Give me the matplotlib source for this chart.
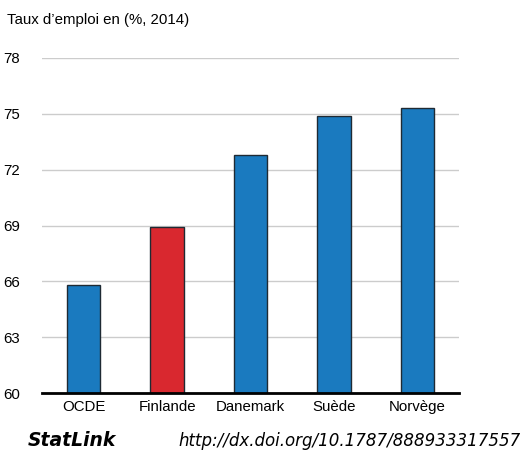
import matplotlib.pyplot as plt

# Taux d'emploi, 2014
pays = ["OCDE", "Finlande", "Danemark", "Suède", "Norvège"]
taux = [65.8, 68.9, 72.8, 74.9, 75.3]
couleurs = ["#1a7abf", "#d9282f", "#1a7abf", "#1a7abf", "#1a7abf"]
yticks = [60, 63, 66, 69, 72, 75, 78]

plt.rcParams['font.family'] = ['Liberation Sans', 'DejaVu Sans']

fig = plt.figure(figsize=(5.21, 4.51), dpi=100)
ax = fig.add_axes([0.0806, 0.1286, 0.8004, 0.7428])

ax.bar(range(len(pays)), taux, width=0.4, color=couleurs,
       edgecolor="#1f2a33", linewidth=1.0, zorder=3)

ax.set_xlim(-0.5, len(pays) - 0.5)
ax.set_ylim(60, 78)
ax.set_yticks(yticks)
ax.set_xticks(range(len(pays)))
ax.set_xticklabels(pays, fontsize=10.8)
ax.tick_params(axis='y', length=0, pad=16, labelsize=10.8)
ax.tick_params(axis='x', length=0, pad=5)
ax.grid(axis='y', color="#cccccc", linewidth=1.0, zorder=0)

for s in ["top", "right", "left"]:
    ax.spines[s].set_visible(False)
ax.spines["bottom"].set_linewidth(2)
ax.spines["bottom"].set_color("black")
ax.spines["bottom"].set_zorder(4)

fig.text(7 / 521, 1 - 20 / 451, "Taux d’emploi en (%, 2014)", fontsize=10.8,
         va="center", ha="left")

fig.text(28 / 521, 1 - 441 / 451, "StatLink", fontsize=13.5,
         fontweight="semibold", style="italic", family="DejaVu Sans",
         va="center", ha="left")
fig.text(178 / 521, 1 - 441 / 451, "http://dx.doi.org/10.1787/888933317557",
         fontsize=12, style="italic", family="DejaVu Sans", va="center", ha="left")

fig.savefig("out.png", dpi=100)
